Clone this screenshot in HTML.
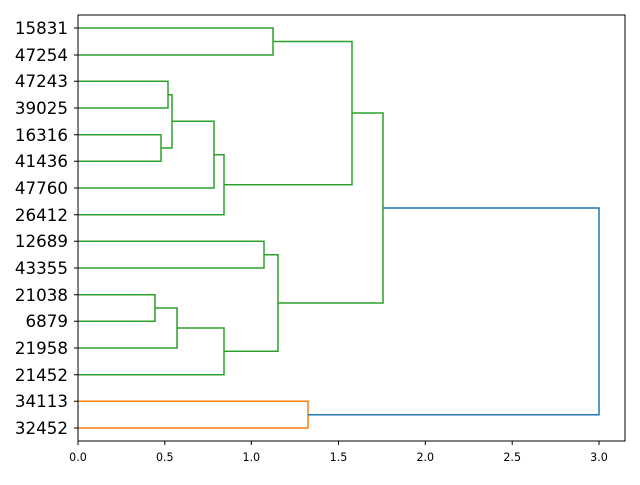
<!DOCTYPE html>
<html><head><meta charset="utf-8"><style>body{margin:0;background:#fff}</style></head><body>
<svg width="640" height="480" xmlns="http://www.w3.org/2000/svg" font-family="DejaVu Sans, Liberation Sans, sans-serif">
<rect width="640" height="480" fill="#fff"/>
<g fill="none" stroke-width="1.5">
<g stroke="#2ca02c">
<path d="M78 28H273V55H78"/>
<path d="M78 81.3H168V108H78"/>
<path d="M78 134.7H161V161.3H78"/>
<path d="M168 94.7H172V148H161"/>
<path d="M172 121.3H214V188H78"/>
<path d="M214 154.7H224V214.7H78"/>
<path d="M273 41.5H352V184.7H224"/>
<path d="M78 241.3H264V268H78"/>
<path d="M78 294.7H155V321.3H78"/>
<path d="M155 308H177V348H78"/>
<path d="M177 328H224V374.7H78"/>
<path d="M264 254.7H278V351.3H224"/>
<path d="M352 113H383V303H278"/>
</g>
<path stroke="#ff7f0e" d="M78 401.3H308V428H78"/>
<path stroke="#1f77b4" d="M383 208H599V414.7H308"/>
</g>
<rect x="78" y="15" width="547" height="426" fill="none" stroke="#000" stroke-width="1"/>
<g stroke="#000">
<path d="M78 441v4M164.8 441v4M251.3 441v4M338.5 441v4M425.3 441v4M512.2 441v4M599 441v4"/>
<path d="M78 28h-4M78 55h-4M78 81.3h-4M78 108h-4M78 134.7h-4M78 161.3h-4M78 188h-4M78 214.7h-4M78 241.3h-4M78 268h-4M78 294.7h-4M78 321.3h-4M78 348h-4M78 374.7h-4M78 401.3h-4M78 428h-4"/>
</g>
<g font-size="11.1" text-anchor="middle">
<text x="78" y="461">0.0</text><text x="164.8" y="461">0.5</text><text x="251.3" y="461">1.0</text><text x="338.5" y="461">1.5</text><text x="425.3" y="461">2.0</text><text x="512.2" y="461">2.5</text><text x="599" y="461">3.0</text>
</g>
<g font-size="16.7" text-anchor="end">
<text x="68" y="34">15831</text><text x="68" y="61">47254</text><text x="68" y="87">47243</text><text x="68" y="114">39025</text><text x="68" y="141">16316</text><text x="68" y="167">41436</text><text x="68" y="194">47760</text><text x="68" y="221">26412</text><text x="68" y="247">12689</text><text x="68" y="274">43355</text><text x="68" y="301">21038</text><text x="68" y="327">6879</text><text x="68" y="354">21958</text><text x="68" y="381">21452</text><text x="68" y="407">34113</text><text x="68" y="434">32452</text>
</g>
</svg>
</body></html>
